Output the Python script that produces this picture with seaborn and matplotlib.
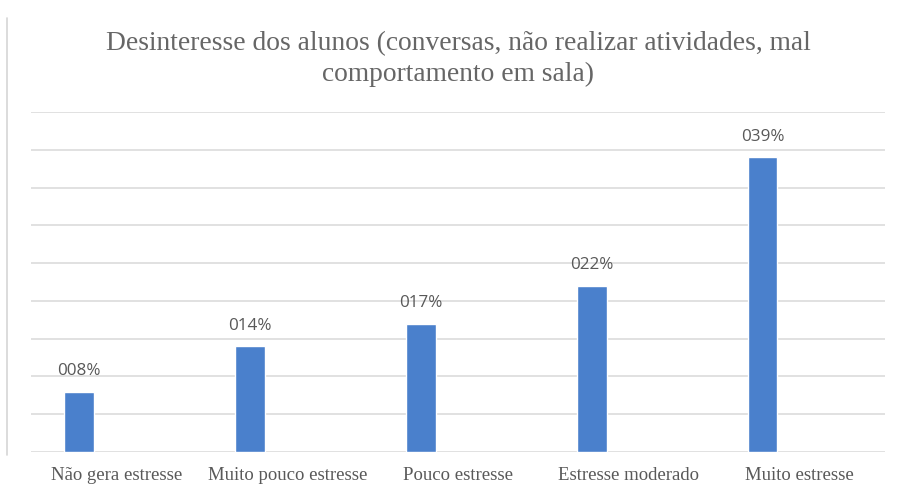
import matplotlib
matplotlib.use("Agg")
import matplotlib.pyplot as plt
from matplotlib.lines import Line2D
import numpy as np
import pandas as pd
import seaborn as sns

categories = ["Não gera estresse", "Muito pouco estresse", "Pouco estresse",
              "Estresse moderado", "Muito estresse"]
values = [8, 14, 17, 22, 39]
value_labels = ["008%", "014%", "017%", "022%", "039%"]
title = "Desinteresse dos alunos (conversas, não realizar atividades, mal\ncomportamento em sala)"

sns.set_theme(style="white")
plt.rcParams["font.family"] = ["Liberation Serif", "DejaVu Serif"]

# bars sit left of each category centre, as in a clustered column layout
bar_shift = -0.217
df = pd.DataFrame({"pos": np.arange(len(categories)) + bar_shift, "pct": values})

fig = plt.figure(figsize=(8.98, 4.93), dpi=100)
ax = fig.add_axes([31 / 898, 1 - 452 / 493, (885 - 31) / 898, (452 - 112) / 493])

sns.barplot(data=df, x="pos", y="pct", native_scale=True, width=0.175,
            color="#4a80cc", saturation=1, ax=ax, zorder=3)

ax.set_xlim(-0.5, len(categories) - 0.5)
ax.set_ylim(0, 45)
ax.set_yticks(np.arange(0, 46, 5))
ax.yaxis.grid(True, color="#dcdcdc", linewidth=1.2)
ax.set_axisbelow(True)
ax.tick_params(axis="y", left=False, labelleft=False)
ax.set_xticks(np.arange(len(categories)))
ax.set_xticklabels(categories, fontsize=13.5, color="#595959")
ax.tick_params(axis="x", bottom=False, pad=5)
ax.set_xlabel("")
ax.set_ylabel("")
for s in ax.spines.values():
    s.set_visible(False)

for p, lab in zip(ax.patches, value_labels):
    ax.annotate(lab, (p.get_x() + p.get_width() / 2, p.get_height()),
                xytext=(0, 9), textcoords="offset points", ha="center", va="bottom",
                fontsize=12.3, color="#595959", family=["Open Sans", "DejaVu Sans"])

fig.text(0.51, 1 - 59 / 493, title, ha="center", va="center", fontsize=19.8,
         color="#666666", linespacing=1.3)

# chart-area border on the left
fig.add_artist(Line2D([7 / 898, 7 / 898], [1 - 455 / 493, 1 - 18 / 493],
                      color="#d6d6d6", linewidth=1.2))

fig.savefig("out.png", dpi=100)
